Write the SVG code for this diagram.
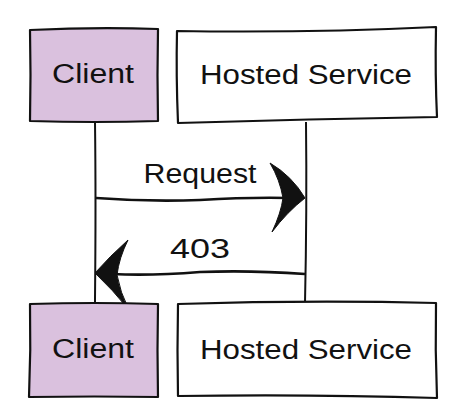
<svg xmlns="http://www.w3.org/2000/svg" width="466" height="416" viewBox="0 0 466 416">
<style>
.box{stroke:#111;stroke-width:2.2;stroke-linejoin:round;fill:#fff}
.client{fill:#dac1de}
.lbl{font-family:"Comic Sans MS","Liberation Sans",sans-serif;font-size:27px;fill:#111;text-anchor:middle}
.line{stroke:#111;stroke-width:2;fill:none}
.msg{stroke:#111;stroke-width:2.6;fill:none}
.head{fill:#111;stroke:#111;stroke-width:1;stroke-linejoin:round}
</style>
<rect width="466" height="416" fill="#fff"/>
<g id="connectors">
<path class="line" d="M95 122 Q96 200 95 300 L95 303"/>
<path class="line" d="M306 122 Q307 210 305 303"/>
<path class="msg" d="M96 198 Q150 202 200 200 Q250 197 290 198"/>
<path class="head" d="M270 163 Q292 176 305 198 Q287 212 272 232 Q281 213 283 198 Q280 180 270 163 Z"/>
<text class="lbl" x="200" y="183" textLength="113" lengthAdjust="spacingAndGlyphs">Request</text>
<path class="msg" d="M305 274 Q250 270 200 272 Q150 276 112 274"/>
<path class="head" d="M128 240 Q110 256 95 273 Q113 290 129 310 Q120 292 117 275 Q119 258 128 240 Z"/>
<text class="lbl" x="200" y="258" textLength="60" lengthAdjust="spacingAndGlyphs">403</text>
</g>
<g id="client-top">
<path class="box client" d="M30 30 Q95 27 158 29 Q157 75 158 121 Q95 123 30 121 Q31 75 30 30 Z"/>
<text class="lbl" x="93" y="83" textLength="82" lengthAdjust="spacingAndGlyphs">Client</text>
</g>
<g id="service-top">
<path class="box" d="M177 31 Q310 33 436 27 Q435 75 437 117 Q310 119 178 123 Q176 75 177 31 Z"/>
<text class="lbl" x="306" y="84" textLength="212" lengthAdjust="spacingAndGlyphs">Hosted Service</text>
</g>
<g id="client-bottom">
<path class="box client" d="M30 304 Q95 302 158 304 Q157 350 158 397 Q95 396 29 397 Q31 350 30 304 Z"/>
<text class="lbl" x="93" y="358" textLength="82" lengthAdjust="spacingAndGlyphs">Client</text>
</g>
<g id="service-bottom">
<path class="box" d="M178 304 Q310 300 436 303 Q435 350 437 398 Q310 394 178 396 Q177 350 178 304 Z"/>
<text class="lbl" x="306" y="359" textLength="212" lengthAdjust="spacingAndGlyphs">Hosted Service</text>
</g>
</svg>
